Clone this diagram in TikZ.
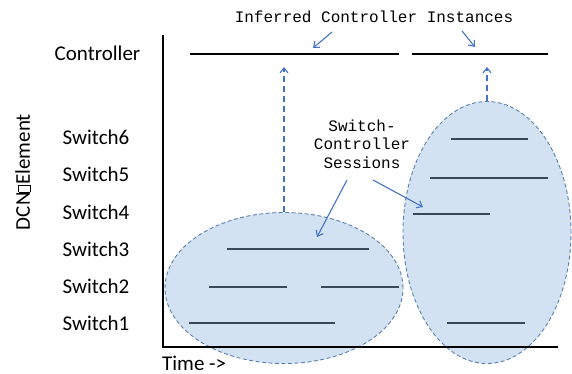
\documentclass[tikz,border=0pt]{standalone}
\usepackage{fontspec}
\setmainfont{Carlito}
\newfontfamily\codefont{Liberation Mono}
\usetikzlibrary{arrows.meta,shapes.geometric}

\definecolor{sessfill}{HTML}{D3E2F3}
\definecolor{sessedge}{HTML}{5A7FAF}
\definecolor{callout}{HTML}{4472C4}
\definecolor{sessline}{HTML}{3A4758}

% placeholder glyph box between the words of the axis title
\newcommand{\gapglyph}{{\setlength{\fboxsep}{0pt}\setlength{\fboxrule}{0.6pt}%
  \raisebox{0pt}{\fbox{\rule{0pt}{11pt}\hspace{6.5pt}}}}}

\tikzset{
  rowlabel/.style={font=\fontsize{21}{24}\selectfont, anchor=center, inner sep=0pt},
  codelabel/.style={font=\codefont\fontsize{16}{18.5}\selectfont, align=center, inner sep=0pt},
  session/.style={draw=sessedge, dashed, dash pattern=on 4pt off 2.5pt, line width=0.9pt, fill=sessfill},
  ctrlbar/.style={line width=1.6pt, black},
  sessbar/.style={line width=1.6pt, sessline},
  axisline/.style={line width=1.4pt, black},
  infer/.style={callout, line width=1.1pt, dashed, dash pattern=on 6pt off 4pt, -{Straight Barb[length=5pt,width=8pt]}},
  pointer/.style={callout, line width=1.1pt, -{Straight Barb[length=5pt,width=8pt]}}
}

\begin{document}
\begin{tikzpicture}[x=1pt,y=-1pt]
\useasboundingbox (0,0) rectangle (572,373);

% session ellipses
\node[session, ellipse, minimum width=238pt, minimum height=151pt, inner sep=0pt] (leftsess) at (284,288) {};
\node[session, ellipse, minimum width=168pt, minimum height=262pt, inner sep=0pt] (rightsess) at (487,232.5) {};

% axes
\coordinate (axtop) at (163,35);
\coordinate (axorig) at (163,347);
\coordinate (axend) at (558,347);
\draw[axisline] (axtop) -- (axorig) -- (axend);

% row labels
\node[rowlabel] (lctrl) at (97.5,53) {Controller};
\node[rowlabel] (ls6) at (96,137) {Switch6};
\node[rowlabel] (ls5) at (96,174) {Switch5};
\node[rowlabel] (ls4) at (96,212) {Switch4};
\node[rowlabel] (ls3) at (96,249) {Switch3};
\node[rowlabel] (ls2) at (96,286) {Switch2};
\node[rowlabel] (ls1) at (96,323) {Switch1};

\node[rowlabel, rotate=90] (ylab) at (23,172) {DCN\gapglyph Element};
\node[rowlabel, anchor=west] (xlab) at (162,363) {Time ->};

% controller instances
\coordinate (c1a) at (190,54); \coordinate (c1b) at (399,54);
\coordinate (c2a) at (412,54); \coordinate (c2b) at (548,54);
\draw[ctrlbar] (c1a) -- (c1b);
\draw[ctrlbar] (c2a) -- (c2b);

% switch-controller sessions
\coordinate (s6a) at (451,139); \coordinate (s6b) at (528,139);
\coordinate (s5a) at (430,178); \coordinate (s5b) at (548,178);
\coordinate (s4a) at (413,214); \coordinate (s4b) at (490,214);
\coordinate (s3a) at (227,249); \coordinate (s3b) at (369,249);
\coordinate (s2a) at (209,287); \coordinate (s2b) at (287,287);
\coordinate (s2c) at (321,287); \coordinate (s2d) at (399,287);
\coordinate (s1a) at (189,323); \coordinate (s1b) at (335,323);
\coordinate (s1c) at (447,323); \coordinate (s1d) at (525,323);
\draw[sessbar] (s6a) -- (s6b);
\draw[sessbar] (s5a) -- (s5b);
\draw[sessbar] (s4a) -- (s4b);
\draw[sessbar] (s3a) -- (s3b);
\draw[sessbar] (s2a) -- (s2b);
\draw[sessbar] (s2c) -- (s2d);
\draw[sessbar] (s1a) -- (s1b);
\draw[sessbar] (s1c) -- (s1d);

% inference arrows from session groups to controller instances
\coordinate (inf1) at (284,67);
\coordinate (inf2) at (487,67);
\draw[infer] (leftsess.north) -- (inf1);
\draw[infer] (rightsess.north) -- (inf2);

% callouts
\node[codelabel] (infertxt) at (374,17) {Inferred Controller Instances};
\node[codelabel] (sesstxt) at (362,144) {Switch-\\Controller\\Sessions};

\coordinate (pA) at (313,48);
\coordinate (pB) at (475,47);
\coordinate (pC) at (317,237);
\coordinate (pD) at (423,207);
\draw[pointer] (332,32) -- (pA);
\draw[pointer] (462,31) -- (pB);
\draw[pointer] (347,180) -- (pC);
\draw[pointer] (373,180) -- (pD);
\end{tikzpicture}
\end{document}
